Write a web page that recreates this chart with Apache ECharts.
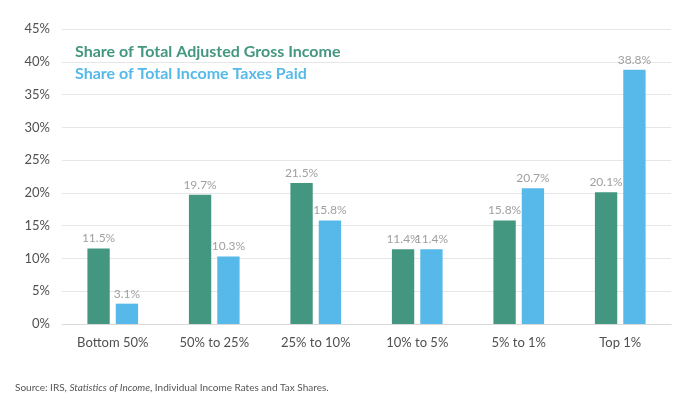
<!DOCTYPE html>
<html><head><meta charset="utf-8">
<script src="https://cdn.jsdelivr.net/npm/echarts@6/dist/echarts.min.js"></script>
<style>html,body{margin:0;padding:0;background:#fff}#c{width:690px;height:405px}</style>
</head><body><div id="c"></div>
<script>
const categories = ['Bottom 50%', '50% to 25%', '25% to 10%', '10% to 5%', '5% to 1%', 'Top 1%'];
const agiShare = [11.5, 19.7, 21.5, 11.4, 15.8, 20.1];
const taxShare = [3.1, 10.3, 15.8, 11.4, 20.7, 38.8];
const seriesNames = ['Share of Total Adjusted Gross Income', 'Share of Total Income Taxes Paid'];
const FONT = 'Lato, "Open Sans", sans-serif';
const GREEN = '#43967f', BLUE = '#56b9e9';
const chart = echarts.init(document.getElementById('c'));
const lbl = {show: true, position: 'top', distance: 4, color: '#a0a0a0', fontFamily: FONT, fontSize: 12, formatter: p => p.value.toFixed(1) + '%'};
chart.setOption({
  animation: false,
  textStyle: {fontFamily: FONT},
  grid: {left: 62, right: 19, top: 29, bottom: 81},
  legend: {
    orient: 'vertical', left: 65, top: 39, itemWidth: 0, itemHeight: 0, itemGap: 6, icon: 'rect',
    textStyle: {fontFamily: FONT, fontSize: 16, fontWeight: 'bold'},
    data: [{name: seriesNames[0], textStyle: {color: GREEN}}, {name: seriesNames[1], textStyle: {color: BLUE}}]
  },
  xAxis: {
    type: 'category', data: categories,
    axisLine: {lineStyle: {color: '#d9d9d9'}}, axisTick: {show: false},
    axisLabel: {color: '#505050', fontSize: 13, fontFamily: FONT, margin: 12}
  },
  yAxis: {
    type: 'value', min: 0, max: 45, interval: 5,
    axisLabel: {color: '#505050', fontSize: 13, fontFamily: FONT, formatter: '{value}%', margin: 12},
    splitLine: {lineStyle: {color: '#e6e6e6'}}
  },
  series: [
    {name: seriesNames[0], type: 'bar', data: agiShare, itemStyle: {color: GREEN}, barWidth: '22%', barGap: '27%', label: lbl},
    {name: seriesNames[1], type: 'bar', data: taxShare, itemStyle: {color: BLUE}, barWidth: '22%', label: lbl}
  ],
  graphic: [{
    type: 'text', left: 15, top: 383,
    style: {
      text: '{n|Source: IRS, }{i|Statistics of Income}{n|, Individual Income Rates and Tax Shares.}',
      rich: {
        n: {fontFamily: FONT, fontSize: 10, fill: '#555'},
        i: {fontFamily: FONT, fontSize: 10, fill: '#555', fontStyle: 'italic'}
      }
    }
  }]
});
</script></body></html>
